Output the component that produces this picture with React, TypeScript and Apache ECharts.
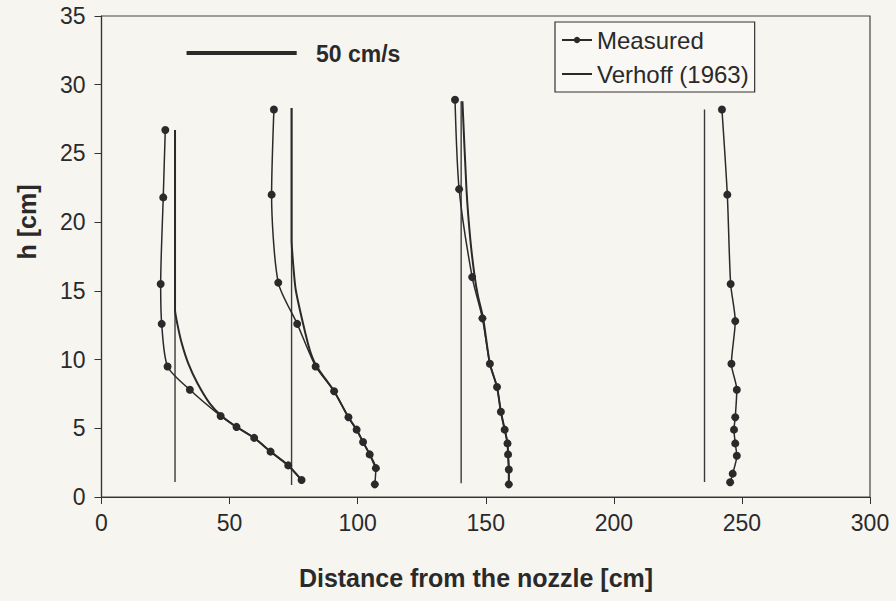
import React, { useEffect, useRef } from "react";
import * as echarts from "echarts";

// Axis ranges
const xMin = 0, xMax = 300, xStep = 50;
const yMin = 0, yMax = 35, yStep = 5;

// Profile 1
const m1X = [24.9, 24.1, 23.1, 23.5, 25.8, 34.5, 46.5, 52.7, 59.6, 66.0, 72.9, 78.1];
const m1Y = [26.7, 21.8, 15.5, 12.6, 9.5, 7.8, 5.9, 5.1, 4.3, 3.3, 2.3, 1.24];
const v1X = [28.7, 28.7, 29.6, 31.3, 33.9, 37.4, 42.3, 46.9, 52.7, 59.6, 66.0, 72.9, 78.1];
const v1Y = [26.7, 13.6, 12.6, 11.2, 9.7, 8.3, 6.8, 5.9, 5.1, 4.3, 3.3, 2.3, 1.24];
const z1X = [28.7, 28.7];
const z1Y = [26.7, 1.1];

// Profile 2
const m2X = [67.3, 66.4, 69.0, 76.4, 83.6, 90.8, 96.4, 99.6, 102.1, 104.7, 107.1, 106.7];
const m2Y = [28.2, 22.0, 15.6, 12.6, 9.5, 7.7, 5.8, 4.9, 4.0, 3.1, 2.1, 0.92];
const v2X = [74.2, 74.2, 74.8, 75.8, 78.7, 81.3, 84.0, 90.8, 96.4, 99.6, 102.1, 104.7, 107.1];
const v2Y = [28.3, 18.7, 17.0, 15.1, 12.6, 10.7, 9.5, 7.7, 5.8, 4.9, 4.0, 3.1, 2.1];
const z2X = [74.2, 74.2];
const z2Y = [28.3, 0.87];

// Profile 3
const m3X = [138.0, 139.6, 144.7, 148.7, 151.6, 154.4, 155.9, 157.4, 158.5, 158.7, 159.0, 159.0];
const m3Y = [28.9, 22.4, 16.0, 13.0, 9.7, 8.0, 6.2, 4.9, 3.9, 3.1, 2.0, 0.92];
const v3X = [140.9, 142.5, 144.0, 145.7, 147.0, 149.0, 151.6, 154.4, 155.9, 157.4, 158.5, 158.7, 159.0, 159.0];
const v3Y = [28.8, 22.3, 18.7, 16.0, 14.6, 13.0, 9.7, 8.0, 6.2, 4.9, 3.9, 3.1, 2.0, 0.92];
const z3X = [140.4, 140.4];
const z3Y = [28.8, 1.0];

// Profile 4
const m4X = [242.2, 244.3, 245.6, 247.4, 245.9, 248.0, 247.4, 246.9, 247.4, 248.0, 246.4, 245.4];
const m4Y = [28.2, 22.0, 15.5, 12.8, 9.7, 7.8, 5.8, 4.9, 3.9, 3.0, 1.7, 1.07];
const z4X = [235.4, 235.4];
const z4Y = [28.2, 1.1];

// Scale bar (50 cm/s)
const barX = [33.2, 76.2];
const barY = [32.3, 32.3];

const legendNames = ["Measured", "Verhoff (1963)"];
const FONT = "'Liberation Sans', Arial, sans-serif";
const INK = "#2a2a2a";

const zip = (xs: number[], ys: number[]) => xs.map((x, i) => [x, ys[i]]);

export default function App() {
  const ref = useRef<HTMLDivElement>(null);
  useEffect(() => {
    if (!ref.current) return;
    const chart = echarts.init(ref.current, null, { renderer: "svg" });
    const zeroSeries = (name: string, xs: number[], ys: number[]) => ({
      name, type: "line", data: zip(xs, ys), symbol: "none",
      lineStyle: { color: "#3a3a3a", width: 1.4 }, silent: true, z: 2,
    });
    const verhoff = (xs: number[], ys: number[]) => ({
      name: legendNames[1], type: "line", data: zip(xs, ys), symbol: "none",
      smooth: 0.2, lineStyle: { color: INK, width: 2 }, itemStyle: { color: INK }, z: 3,
    });
    const measured = (xs: number[], ys: number[]) => ({
      name: legendNames[0], type: "line", data: zip(xs, ys), symbol: "circle",
      symbolSize: 8, smooth: 0.25, showAllSymbol: true,
      lineStyle: { color: INK, width: 1.5 }, itemStyle: { color: INK }, z: 4,
    });
    chart.setOption({
      animation: false,
      backgroundColor: "#f7f5f0",
      textStyle: { fontFamily: FONT },
      grid: {
        left: 101.5, right: 26, top: 16, bottom: 104,
        show: true, borderColor: "#444", borderWidth: 1.2, backgroundColor: "transparent",
      },
      legend: {
        data: [
          { name: legendNames[0] },
          { name: legendNames[1], itemStyle: { opacity: 0 } },
        ],
        orient: "vertical",
        left: 555, top: 22,
        padding: [6, 6, 6, 6],
        itemGap: 10,
        itemWidth: 30, itemHeight: 8,
        borderColor: "#333", borderWidth: 1.2,
        backgroundColor: "#f9f8f5",
        textStyle: { fontSize: 24, color: INK, fontFamily: FONT },
      },
      xAxis: {
        type: "value", min: xMin, max: xMax, interval: xStep,
        axisLine: { show: true, lineStyle: { color: "#333", width: 1.2 } },
        axisTick: { show: true, inside: false, length: 7, lineStyle: { color: "#333" } },
        axisLabel: { fontSize: 23, color: INK, margin: 14, fontFamily: FONT },
        splitLine: { show: false },
      },
      yAxis: {
        type: "value", min: yMin, max: yMax, interval: yStep,
        axisLine: { show: true, lineStyle: { color: "#333", width: 1.2 } },
        axisTick: { show: true, inside: false, length: 7, lineStyle: { color: "#333" } },
        axisLabel: { fontSize: 23, color: INK, margin: 16, fontFamily: FONT },
        splitLine: { show: false },
      },
      series: [
        zeroSeries("z1", z1X, z1Y),
        zeroSeries("z2", z2X, z2Y),
        zeroSeries("z3", z3X, z3Y),
        zeroSeries("z4", z4X, z4Y),
        verhoff(v1X, v1Y),
        verhoff(v2X, v2Y),
        verhoff(v3X, v3Y),
        measured(m1X, m1Y),
        measured(m2X, m2Y),
        measured(m3X, m3Y),
        measured(m4X, m4Y),
        {
          name: "scale", type: "line", data: zip(barX, barY), symbol: "none",
          lineStyle: { color: INK, width: 4 }, silent: true, z: 5,
        },
      ],
      graphic: [
        {
          type: "text", x: 316, y: 54,
          style: {
            text: "50 cm/s", fill: INK, font: `bold 23px ${FONT}`,
            textAlign: "left", textVerticalAlign: "middle",
          },
        },
        {
          type: "text", x: 27, y: 222, rotation: Math.PI / 2,
          style: {
            text: "h [cm]", fill: INK, font: `bold 25px ${FONT}`,
            textAlign: "center", textVerticalAlign: "middle",
          },
        },
        {
          type: "text", x: 476, y: 578,
          style: {
            text: "Distance from the nozzle [cm]", fill: INK, font: `bold 25px ${FONT}`,
            textAlign: "center", textVerticalAlign: "middle",
          },
        },
      ],
    });
    return () => chart.dispose();
  }, []);
  return (
    <div
      ref={ref}
      style={{ position: "fixed", left: 0, top: 0, width: 896, height: 601 }}
    />
  );
}
